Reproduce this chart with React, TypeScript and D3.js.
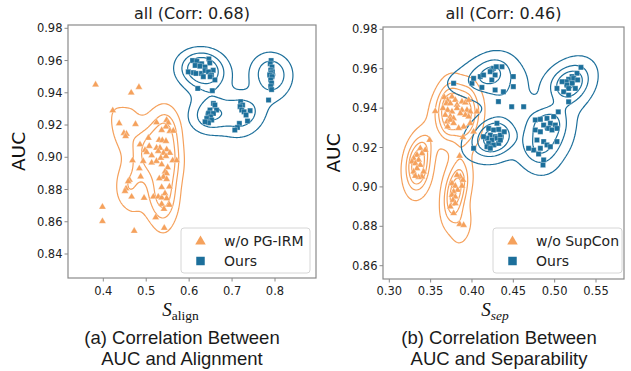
import React from 'react'
import * as d3 from 'd3'

type Pt = [number, number]

// ---- data ----
const alignLabels = ['w/o PG-IRM', 'Ours']
const sepLabels = ['w/o SupCon', 'Ours']

const alignXTicks = [0.4, 0.5, 0.6, 0.7, 0.8]
const alignYTicks = [0.84, 0.86, 0.88, 0.9, 0.92, 0.94, 0.96, 0.98]
const sepXTicks = [0.3, 0.35, 0.4, 0.45, 0.5, 0.55]
const sepYTicks = [0.86, 0.88, 0.9, 0.92, 0.94, 0.96, 0.98]

const alignBase: Pt[] = [
  [0.382, 0.945], [0.465, 0.94], [0.483, 0.9435], [0.422, 0.929], [0.437, 0.921],
  [0.475, 0.9205], [0.448, 0.915], [0.454, 0.9145], [0.452, 0.913], [0.468, 0.898],
  [0.484, 0.893], [0.487, 0.888], [0.461, 0.886], [0.458, 0.885], [0.453, 0.8806],
  [0.4505, 0.879], [0.466, 0.8755], [0.398, 0.8692], [0.398, 0.8603], [0.472, 0.8543],
  [0.495, 0.8748], [0.522, 0.8627], [0.542, 0.8562],
  [0.524, 0.9216], [0.5476, 0.9231], [0.5515, 0.9214], [0.546, 0.9189], [0.555, 0.9162],
  [0.536, 0.9168], [0.563, 0.9164], [0.53, 0.9107], [0.5375, 0.9105], [0.546, 0.91],
  [0.505, 0.912], [0.4855, 0.9079], [0.507, 0.9069], [0.524, 0.9058], [0.532, 0.9058],
  [0.5476, 0.9048], [0.555, 0.9027], [0.54, 0.9027], [0.528, 0.9038], [0.497, 0.9044],
  [0.501, 0.9032], [0.5127, 0.9011], [0.493, 0.8976], [0.5127, 0.8966], [0.524, 0.8976],
  [0.534, 0.8996], [0.546, 0.9007], [0.5616, 0.898], [0.571, 0.898], [0.536, 0.8955],
  [0.55, 0.8937], [0.5437, 0.891], [0.5476, 0.89], [0.54, 0.8878], [0.5305, 0.8868],
  [0.5476, 0.8864], [0.536, 0.8814], [0.554, 0.8818], [0.5166, 0.8755], [0.528, 0.8755],
  [0.536, 0.875], [0.5437, 0.8776], [0.5476, 0.8745], [0.536, 0.871], [0.554, 0.8705],
  [0.5414, 0.8679],
]

const alignOurs: Pt[] = [
  [0.598, 0.953], [0.608, 0.96], [0.618, 0.9595], [0.629, 0.958], [0.646, 0.961],
  [0.648, 0.9585], [0.614, 0.957], [0.625, 0.9565], [0.637, 0.956], [0.656, 0.954],
  [0.61, 0.9525], [0.616, 0.952], [0.629, 0.952], [0.637, 0.9538], [0.645, 0.953],
  [0.652, 0.951], [0.649, 0.95], [0.633, 0.95], [0.66, 0.948], [0.62, 0.9427],
  [0.654, 0.9413],
  [0.791, 0.96], [0.789, 0.958], [0.793, 0.956], [0.79, 0.954], [0.794, 0.953],
  [0.791, 0.952], [0.788, 0.951], [0.793, 0.95], [0.79, 0.948], [0.792, 0.946],
  [0.79, 0.944], [0.792, 0.942], [0.785, 0.9355],
  [0.6565, 0.9334], [0.66, 0.9324], [0.6486, 0.9293], [0.664, 0.9293], [0.645, 0.9272],
  [0.6565, 0.9272], [0.65, 0.9251], [0.641, 0.9241], [0.6525, 0.9231], [0.645, 0.9214],
  [0.637, 0.922], [0.72, 0.9345], [0.7245, 0.9324], [0.7186, 0.9314], [0.7225, 0.9293],
  [0.728, 0.9282], [0.742, 0.9289], [0.7326, 0.9262], [0.736, 0.9225], [0.717, 0.921],
  [0.7125, 0.9185], [0.7064, 0.9169],
]

const sepBase: Pt[] = [
  [0.3665, 0.9455], [0.3706, 0.9441], [0.3758, 0.9458], [0.3798, 0.9441], [0.369, 0.9424],
  [0.3738, 0.9424], [0.3819, 0.9416], [0.3879, 0.9433], [0.392, 0.9428], [0.396, 0.9441],
  [0.3649, 0.9399], [0.3706, 0.939], [0.3758, 0.9382], [0.3819, 0.9399], [0.3879, 0.939],
  [0.394, 0.939], [0.398, 0.9382], [0.406, 0.9382], [0.3677, 0.9365], [0.3738, 0.9357],
  [0.3778, 0.9348], [0.3859, 0.9373], [0.392, 0.9365], [0.396, 0.9357], [0.3698, 0.9331],
  [0.3738, 0.934], [0.3778, 0.9323], [0.3706, 0.9306], [0.39, 0.9306], [0.398, 0.9323],
  [0.3839, 0.9298], [0.402, 0.928], [0.3891, 0.9252], [0.3556, 0.9384],
  [0.3488, 0.9238], [0.3375, 0.9196], [0.3435, 0.9187], [0.3395, 0.917], [0.3335, 0.9162],
  [0.3294, 0.9145], [0.3355, 0.9137], [0.3274, 0.9128], [0.3315, 0.9119], [0.3375, 0.9111],
  [0.3335, 0.9094], [0.3294, 0.9077], [0.3395, 0.9052], [0.3355, 0.9049], [0.3315, 0.9055],
  [0.3415, 0.9077],
  [0.385, 0.9157], [0.3859, 0.9052], [0.3891, 0.9035], [0.3819, 0.906], [0.3758, 0.9018],
  [0.3798, 0.9005], [0.3879, 0.9005], [0.3827, 0.8984], [0.3778, 0.8976], [0.3758, 0.8959],
  [0.3798, 0.895], [0.377, 0.8933], [0.3798, 0.8916], [0.3738, 0.89], [0.3778, 0.8866],
  [0.3851, 0.8811], [0.3899, 0.8806],
]

const sepOurs: Pt[] = [
  [0.3778, 0.9526], [0.4, 0.9526], [0.402, 0.9551], [0.41, 0.956], [0.414, 0.9568],
  [0.424, 0.9593], [0.426, 0.9602], [0.4294, 0.961], [0.4363, 0.961], [0.422, 0.9585],
  [0.428, 0.9568], [0.424, 0.9543], [0.428, 0.9492], [0.438, 0.9483], [0.412, 0.9505],
  [0.45, 0.956], [0.45, 0.9509], [0.432, 0.9433], [0.448, 0.9407], [0.4625, 0.9407],
  [0.4202, 0.9297], [0.4262, 0.9289], [0.4323, 0.9292], [0.4222, 0.9263], [0.4282, 0.9255],
  [0.4181, 0.9247], [0.4242, 0.9238], [0.4302, 0.9247], [0.4343, 0.9263], [0.4202, 0.9221],
  [0.4262, 0.9213], [0.4323, 0.9221], [0.4181, 0.9204], [0.4222, 0.9196], [0.4343, 0.9238],
  [0.402, 0.9196], [0.4391, 0.928], [0.4302, 0.9323], [0.414, 0.9255],
  [0.4766, 0.934], [0.4827, 0.9343], [0.4907, 0.9348], [0.4988, 0.9357], [0.4948, 0.9323],
  [0.5008, 0.9314], [0.4867, 0.9314], [0.4927, 0.9297], [0.4968, 0.9289], [0.5028, 0.9297],
  [0.4766, 0.9289], [0.4827, 0.928], [0.4786, 0.9238], [0.4867, 0.923], [0.4907, 0.9213],
  [0.4948, 0.9204], [0.4827, 0.9196], [0.4746, 0.9187], [0.5028, 0.923], [0.4806, 0.9167],
  [0.4867, 0.9137], [0.4859, 0.9111], [0.4685, 0.9196], [0.5044, 0.9381],
  [0.5318, 0.9607], [0.527, 0.9577], [0.521, 0.956], [0.5169, 0.9546], [0.5141, 0.9534],
  [0.523, 0.9551], [0.5278, 0.9543], [0.521, 0.9526], [0.5149, 0.9517], [0.5089, 0.9534],
  [0.5169, 0.95], [0.525, 0.95], [0.5028, 0.95], [0.5109, 0.9483], [0.5169, 0.9466],
  [0.5169, 0.9432],
]

const ORANGE = '#f5a15c'
const BLUE = '#1c6f9b'
const FRAME = '#8a8a8a'

// kde settings (seaborn-like: scott bandwidth, iso-proportion levels, common norm)
const GRIDSIZE = 200
const CUT = 3
const STEP = 1.5

type Kde = { pts: Pt[]; ia: number; ib: number; ic: number; norm: number; bx: number; by: number }

function fitKde(pts: Pt[], adj: number): Kde {
  const n = pts.length
  const mx = d3.mean(pts, (p) => p[0])!
  const my = d3.mean(pts, (p) => p[1])!
  let sxx = 0, syy = 0, sxy = 0
  pts.forEach(([x, y]) => {
    sxx += (x - mx) ** 2
    syy += (y - my) ** 2
    sxy += (x - mx) * (y - my)
  })
  const f2 = (Math.pow(n, -1 / 6) * adj) ** 2
  const a = (sxx / (n - 1)) * f2, b = (sxy / (n - 1)) * f2, c = (syy / (n - 1)) * f2
  const det = a * c - b * b
  return {
    pts, ia: c / det, ib: -b / det, ic: a / det,
    norm: 1 / (2 * Math.PI * Math.sqrt(det) * n),
    bx: Math.sqrt(a), by: Math.sqrt(c),
  }
}

function evalKde(k: Kde, gx: number, gy: number) {
  let s = 0
  for (let i = 0; i < k.pts.length; i++) {
    const dx = gx - k.pts[i][0], dy = gy - k.pts[i][1]
    s += Math.exp(-0.5 * (k.ia * dx * dx + 2 * k.ib * dx * dy + k.ic * dy * dy))
  }
  return s * k.norm
}

// density on the group's own support grid, as seaborn does
function supportValues(k: Kde, w: number) {
  const [xmin, xmax] = d3.extent(k.pts, (p) => p[0]) as [number, number]
  const [ymin, ymax] = d3.extent(k.pts, (p) => p[1]) as [number, number]
  const xs = d3.range(GRIDSIZE).map((i) => xmin - CUT * k.bx + ((xmax - xmin + 2 * CUT * k.bx) * i) / (GRIDSIZE - 1))
  const ys = d3.range(GRIDSIZE).map((i) => ymin - CUT * k.by + ((ymax - ymin + 2 * CUT * k.by) * i) / (GRIDSIZE - 1))
  const out: number[] = []
  ys.forEach((yy) => xs.forEach((xx) => out.push(evalKde(k, xx, yy) * w)))
  return out
}

function quantileToLevel(values: number[], props: number[]) {
  const all = values.slice().sort((p, q) => q - p)
  const total = d3.sum(all)
  const cum: number[] = []
  let acc = 0
  all.forEach((d) => { acc += d; cum.push(acc / total) })
  return props.map((q) => all[Math.min(d3.bisectLeft(cum, 1 - q), all.length - 1)])
}

interface PanelProps {
  id: string
  box: { x0: number; x1: number; y0: number; y1: number }
  xAnchor: [number, number, number, number]
  yAnchor: [number, number, number, number]
  xTicks: number[]
  yTicks: number[]
  xFmt: string
  title: string
  labels: string[]
  base: Pt[]
  ours: Pt[]
  bw: number
  thresh: number
  nLevels: number
  xMain: string
  xSub: string
  subItalic: boolean
  xLabelX: number
  caption: string[]
  captionX: number
  legendX: number
}

function Panel(p: PanelProps) {
  const { x0, x1, y0, y1 } = p.box
  const x = d3.scaleLinear().domain([p.xAnchor[0], p.xAnchor[1]]).range([p.xAnchor[2], p.xAnchor[3]])
  const y = d3.scaleLinear().domain([p.yAnchor[0], p.yAnchor[1]]).range([p.yAnchor[2], p.yAnchor[3]])
  const fmt = d3.format(p.xFmt)

  // kde contours
  const gw = Math.ceil((x1 - x0) / STEP)
  const gh = Math.ceil((y1 - y0) / STEP)
  const total = p.base.length + p.ours.length
  const fits = [p.base, p.ours].map((pts) => ({ k: fitKde(pts, p.bw), w: pts.length / total }))
  const props = d3.range(p.nLevels).map((i) => p.thresh + ((1 - p.thresh) * i) / (p.nLevels - 1))
  const levels = quantileToLevel(fits.flatMap((f) => supportValues(f.k, f.w)), props)
  const grids = fits.map(({ k, w }) => {
    const g: number[] = new Array(gw * gh)
    for (let j = 0; j < gh; j++) {
      const dy = y.invert(y0 + (j + 0.5) * STEP)
      for (let i = 0; i < gw; i++) g[j * gw + i] = evalKde(k, x.invert(x0 + (i + 0.5) * STEP), dy) * w
    }
    return g
  })
  const maxV = Math.max(...grids.map((g) => d3.max(g)!))
  const drawLevels = levels.filter((l) => l < maxV * 0.999)
  const path = d3.geoPath(d3.geoIdentity().scale(STEP).translate([x0, y0]) as any)
  const colors = [ORANGE, BLUE]

  const tri = d3.symbol(d3.symbolTriangle, 22)()!
  const sq = d3.symbol(d3.symbolSquare, 27)()!
  const triL = d3.symbol(d3.symbolTriangle, 48)()!
  const sqL = d3.symbol(d3.symbolSquare, 72)()!

  return (
    <g>
      <defs>
        <clipPath id={`clip-${p.id}`}>
          <rect x={x0} y={y0} width={x1 - x0} height={y1 - y0} />
        </clipPath>
      </defs>
      <text x={(x0 + x1) / 2} y={19} textAnchor="middle" fontSize={16} fill="#222">
        {p.title}
      </text>
      <g clipPath={`url(#clip-${p.id})`}>
        {grids.map((g, gi) => {
          const cs = d3.contours().size([gw, gh]).thresholds(drawLevels)(g)
          return cs.map((c, ci) => (
            <path key={`${gi}-${ci}`} d={path(c as any) || ''} fill="none" stroke={colors[gi]} strokeWidth={1.2} />
          ))
        })}
        {p.base.map((d, i) => (
          <path key={`b${i}`} d={tri} transform={`translate(${x(d[0])},${y(d[1])})`} fill={ORANGE} stroke="#fff" strokeWidth={0.3} />
        ))}
        {p.ours.map((d, i) => (
          <path key={`o${i}`} d={sq} transform={`translate(${x(d[0])},${y(d[1])})`} fill={BLUE} stroke="#fff" strokeWidth={0.3} />
        ))}
      </g>
      <rect x={x0} y={y0} width={x1 - x0} height={y1 - y0} fill="none" stroke={FRAME} strokeWidth={1.2} />
      {p.xTicks.map((t) => (
        <g key={`xt${t}`}>
          <line x1={x(t)} x2={x(t)} y1={y1} y2={y1 + 3.5} stroke={FRAME} />
          <text x={x(t)} y={295} textAnchor="middle" fontSize={11.5} fill="#222">{fmt(t)}</text>
        </g>
      ))}
      {p.yTicks.map((t) => (
        <g key={`yt${t}`}>
          <line x1={x0 - 3.5} x2={x0} y1={y(t)} y2={y(t)} stroke={FRAME} />
          <text x={x0 - 5.5} y={y(t) + 4} textAnchor="end" fontSize={11.5} fill="#222">{t.toFixed(2)}</text>
        </g>
      ))}
      <text transform={`translate(${x0 - 43},${(y0 + y1) / 2}) rotate(-90)`} textAnchor="middle" fontSize={18.5} fill="#111">
        AUC
      </text>
      <text x={p.xLabelX} y={316} textAnchor="middle" fontFamily="'Liberation Serif', serif" fill="#111">
        <tspan fontSize={19} fontStyle="italic">{p.xMain}</tspan>
        <tspan fontSize={13.5} dy={3.5} fontStyle={p.subItalic ? 'italic' : 'normal'}>{p.xSub}</tspan>
      </text>
      <g transform={`translate(${p.legendX},228)`}>
        <rect width={129} height={45} rx={3} fill="#fff" fillOpacity={0.85} stroke="#d6d6d6" />
        <path d={triL} transform="translate(19.5,13.5)" fill={ORANGE} />
        <path d={sqL} transform="translate(19.5,33)" fill={BLUE} />
        <text x={43} y={18} fontSize={14} fill="#222">{p.labels[0]}</text>
        <text x={43} y={37.5} fontSize={14} fill="#222">{p.labels[1]}</text>
      </g>
      {p.caption.map((c, i) => (
        <text key={c} x={p.captionX} y={344 + i * 21} textAnchor="middle" fontSize={18.5}
          fontFamily="'Liberation Sans', Arial, sans-serif" fill="#1a1a1a">{c}</text>
      ))}
    </g>
  )
}

export default function App() {
  return (
    <svg width={631} height={371} style={{ display: 'block', position: 'absolute', left: 0, top: 0 }}
      fontFamily="'DejaVu Sans', sans-serif">
      <rect width={631} height={371} fill="#fff" />
      <Panel
        id="a"
        box={{ x0: 68, x1: 316, y0: 25, y1: 278 }}
        xAnchor={[0.4, 0.8, 103.3, 275]}
        yAnchor={[0.84, 0.98, 254, 28.3]}
        xTicks={alignXTicks}
        yTicks={alignYTicks}
        xFmt=".1f"
        title="all (Corr: 0.68)"
        labels={alignLabels}
        base={alignBase}
        ours={alignOurs}
        bw={0.9}
        thresh={0.15}
        nLevels={4}
        xMain="S"
        xSub="align"
        subItalic={false}
        xLabelX={180.5}
        caption={['(a) Correlation Between', 'AUC and Alignment']}
        captionX={182}
        legendX={181}
      />
      <Panel
        id="b"
        box={{ x0: 383, x1: 624, y0: 27, y1: 279 }}
        xAnchor={[0.3, 0.55, 389.3, 596]}
        yAnchor={[0.86, 0.98, 265.7, 29.3]}
        xTicks={sepXTicks}
        yTicks={sepYTicks}
        xFmt=".2f"
        title="all (Corr: 0.46)"
        labels={sepLabels}
        base={sepBase}
        ours={sepOurs}
        bw={0.72}
        thresh={0.05}
        nLevels={5}
        xMain="S"
        xSub="sep"
        subItalic={true}
        xLabelX={495}
        caption={['(b) Correlation Between', 'AUC and Separability']}
        captionX={499}
        legendX={493}
      />
    </svg>
  )
}
